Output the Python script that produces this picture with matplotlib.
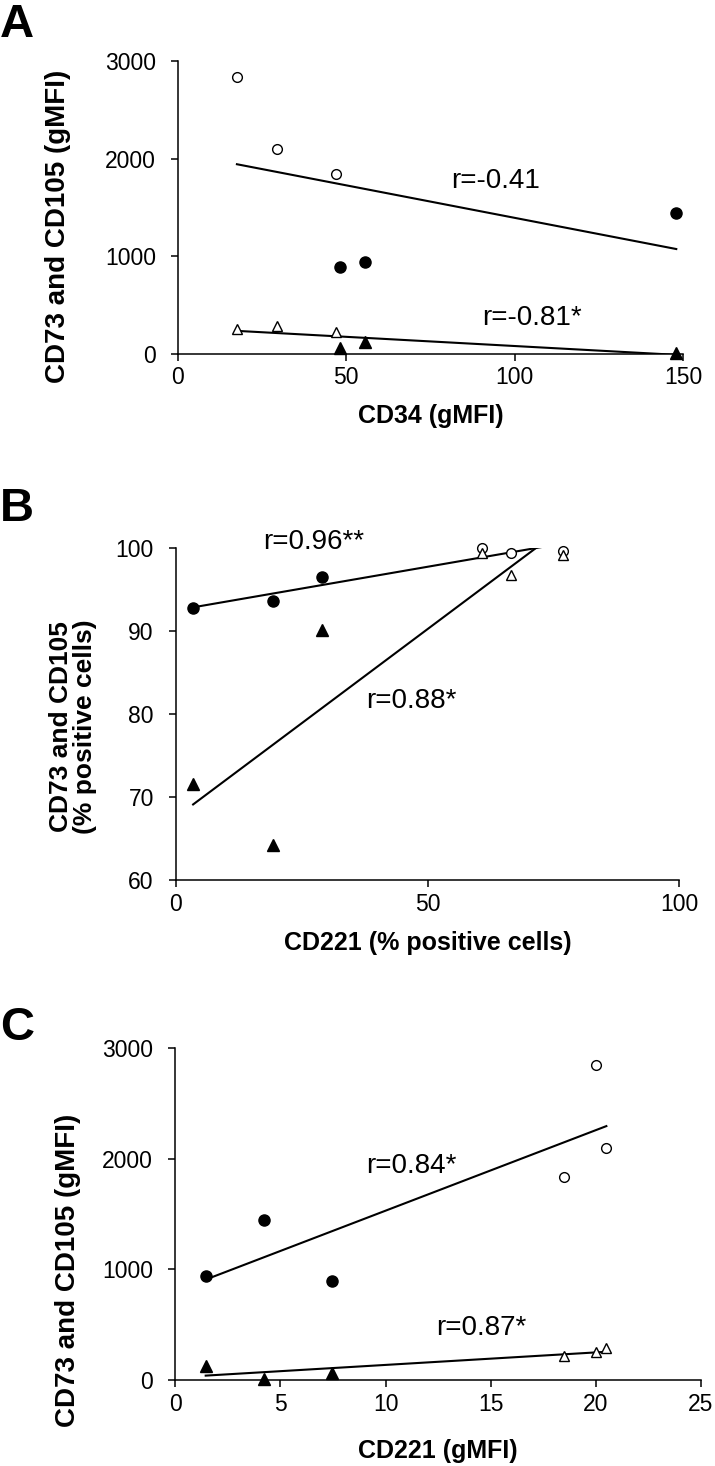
import numpy as np
import matplotlib
matplotlib.use("Agg")
import matplotlib.pyplot as plt

plt.rcParams['font.family'] = ['Liberation Sans', 'DejaVu Sans']

# samples: three "open" donors, three "filled" donors
cd34_open = [17.5, 29.5, 47.0]
cd34_filled = [148.0, 55.5, 48.0]
cd221_gmfi_open = [20.0, 20.5, 18.5]
cd221_gmfi_filled = [4.2, 1.45, 7.45]
cd105_gmfi_open = [2840, 2095, 1838]
cd105_gmfi_filled = [1448, 945, 892]
cd73_gmfi_open = [255, 288, 222]
cd73_gmfi_filled = [14, 125, 65]

# panel B, % positive cells
cd221_pct_filled = [3.4, 19.2, 29.0]
cd221_pct_open = [60.7, 66.5, 76.8]
cd105_pct_filled = [92.8, 93.6, 96.5]
cd105_pct_open = [100.0, 99.4, 99.7]
cd73_pct_filled = [71.6, 64.3, 90.2]
cd73_pct_open = [99.4, 96.8, 99.2]

W, H = 715, 1466
fig = plt.figure(figsize=(W / 100, H / 100), dpi=100)


def px_axes(x0, x1, ytop, ybot):
    return fig.add_axes([x0 / W, 1 - ybot / H, (x1 - x0) / W, (ybot - ytop) / H])


def style(ax):
    for s in ['top', 'right']:
        ax.spines[s].set_visible(False)
    for s in ['left', 'bottom']:
        ax.spines[s].set_linewidth(1.1)
    ax.tick_params(direction='out', length=5, width=1.1, labelsize=16.5, pad=4)
    ax.tick_params(axis='y', pad=11)


def scatter_fit(ax, xf, yf, xo, yo, marker):
    ms = 8 if marker == 'o' else 8.5
    ax.plot(xf, yf, linestyle='none', marker=marker, markersize=ms,
            color='black', clip_on=False, zorder=3)
    ax.plot(xo, yo, linestyle='none', marker=marker, markersize=ms - 1,
            markerfacecolor='white', markeredgecolor='black',
            markeredgewidth=1.0, clip_on=False, zorder=3)
    x = np.array(xf + xo, dtype=float)
    y = np.array(yf + yo, dtype=float)
    k, b = np.polyfit(x, y, 1)
    xs = np.array([x.min(), x.max()])
    ax.plot(xs, k * xs + b, color='black', linewidth=1.5, zorder=2)


def labels(ax, xlab, ylab, xc, yc, yfrac, ysize=20):
    # xc: label centre in figure px (vertical), yc: label centre x in figure px
    ax.set_xlabel(xlab, fontsize=18, fontweight='bold', va='center')
    ax.set_ylabel(ylab, fontsize=ysize, fontweight='bold', va='center',
                  linespacing=1.05)
    bb = ax.get_position()
    fx = (yc / W - bb.x0) / bb.width
    fy = ((1 - xc / H) - bb.y0) / bb.height
    ax.yaxis.set_label_coords(fx, yfrac)
    ax.xaxis.set_label_coords(0.5, fy)


# ---- A ----
axA = px_axes(178, 683, 61, 354)
scatter_fit(axA, cd34_filled, cd105_gmfi_filled, cd34_open, cd105_gmfi_open, 'o')
scatter_fit(axA, cd34_filled, cd73_gmfi_filled, cd34_open, cd73_gmfi_open, '^')
axA.set_xlim(0, 150)
axA.set_ylim(0, 3000)
axA.set_xticks([0, 50, 100, 150])
axA.set_yticks([0, 1000, 2000, 3000])
style(axA)
labels(axA, 'CD34 (gMFI)', 'CD73 and CD105 (gMFI)', 416, 58, 0.437)
axA.text(81, 1697, 'r=-0.41', fontsize=20)
axA.text(90.3, 297, 'r=-0.81*', fontsize=20)

# ---- B ----
axB = px_axes(176, 679.3, 548.3, 880.3)
scatter_fit(axB, cd221_pct_filled, cd105_pct_filled, cd221_pct_open, cd105_pct_open, 'o')
scatter_fit(axB, cd221_pct_filled, cd73_pct_filled, cd221_pct_open, cd73_pct_open, '^')
axB.set_xlim(0, 100)
axB.set_ylim(60, 100)
axB.set_xticks([0, 50, 100])
axB.set_yticks([60, 70, 80, 90, 100])
style(axB)
labels(axB, 'CD221 (% positive cells)', 'CD73 and CD105\n(% positive cells)',
       943, 73, 0.462, ysize=19)
axB.text(17.3, 99.9, 'r=0.96**', fontsize=20)
axB.text(37.8, 80.8, 'r=0.88*', fontsize=20)

# ---- C ----
axC = px_axes(175.2, 701, 1047.7, 1380.3)
scatter_fit(axC, cd221_gmfi_filled, cd105_gmfi_filled, cd221_gmfi_open, cd105_gmfi_open, 'o')
scatter_fit(axC, cd221_gmfi_filled, cd73_gmfi_filled, cd221_gmfi_open, cd73_gmfi_open, '^')
axC.set_xlim(0, 25)
axC.set_ylim(0, 3000)
axC.set_xticks([0, 5, 10, 15, 20, 25])
axC.set_yticks([0, 1000, 2000, 3000])
style(axC)
labels(axC, 'CD221 (gMFI)', 'CD73 and CD105 (gMFI)', 1451, 68, 0.332)
axC.text(9.1, 1870, 'r=0.84*', fontsize=20)
axC.text(12.4, 408, 'r=0.87*', fontsize=20)

for letter, ybase in [('A', 37), ('B', 521), ('C', 1040)]:
    fig.text(0.0, 1 - ybase / H, letter, fontsize=34, fontweight='bold',
             ha='left', va='baseline')

fig.savefig('out.png', dpi=100)
